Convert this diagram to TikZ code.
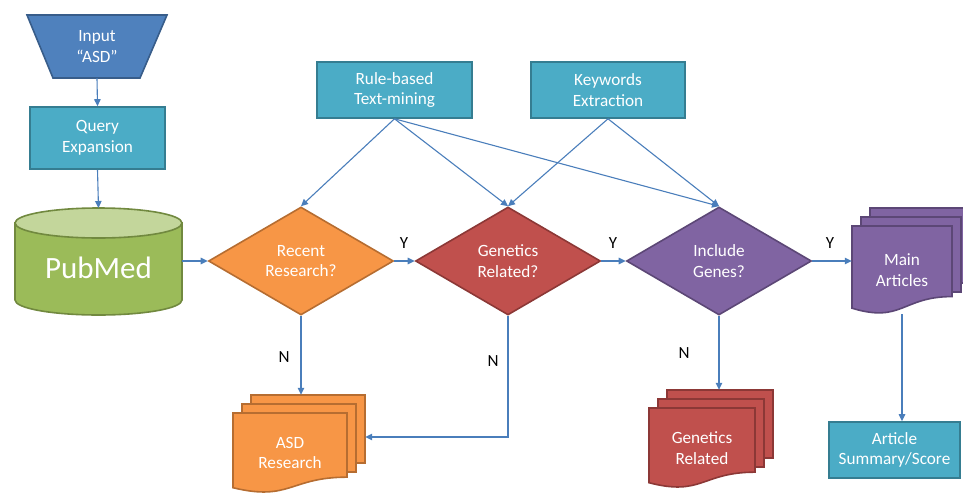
\documentclass[tikz,border=0pt]{standalone}
\usepackage{fontspec}
\setmainfont{Carlito}
\usepackage{tikz}
\usetikzlibrary{arrows.meta,positioning,shapes.geometric}
\definecolor{conn}{HTML}{4A7EBB}
\definecolor{inF}{HTML}{4F81BD}
\definecolor{inD}{HTML}{385D8A}
\definecolor{aqF}{HTML}{4BACC6}
\definecolor{aqD}{HTML}{357D91}
\definecolor{grF}{HTML}{9BBB59}
\definecolor{grT}{HTML}{C3D69B}
\definecolor{grD}{HTML}{71893F}
\definecolor{orgF}{HTML}{F79646}
\definecolor{orgD}{HTML}{B66D31}
\definecolor{redF}{HTML}{C0504D}
\definecolor{redD}{HTML}{8C3836}
\definecolor{purF}{HTML}{8064A2}
\definecolor{purD}{HTML}{5C4776}
\tikzset{
  shapetext/.style={text=white, align=center, inner sep=0pt, font=\fontsize{17.2}{20.5}\selectfont},
  procbox/.style={shapetext, draw=aqD, fill=aqF, line width=1.6pt},
  decide/.style={shapetext, diamond, minimum width=185pt, minimum height=108pt, line width=1.6pt},
  flow/.style={draw=conn, line width=1.1pt, -{Triangle[length=7pt, width=6.5pt]}},
  yn/.style={text=black, font=\fontsize{17}{20}\selectfont},
}

\begin{document}
\begin{tikzpicture}[x=1pt, y=-1pt]
  \useasboundingbox (0,0) rectangle (963,493);
  % input and query
  \draw[fill=inF, draw=inD, line width=1.6pt] (27,15) -- (167,15) -- (140,78) -- (53,78) -- cycle;
  \node[shapetext, minimum width=140pt, minimum height=63pt] (input) at (97,46.5) {Input\\“ASD”};
  \node[procbox, minimum width=135pt, minimum height=62pt] (query) at (97.5,138) {Query\\Expansion};
  % pubmed
  \draw[fill=grF, draw=grD, line width=1.6pt] (182,223) -- (182,300)
        arc[start angle=0, end angle=180, x radius=83.5, y radius=15] -- (15,223) -- cycle;
  \draw[fill=grT, draw=grD, line width=1.6pt] (98.5,223) ellipse [x radius=83.5, y radius=15];
  \coordinate (dbtop) at (98.5,208);
  \node[shapetext, font=\fontsize{31}{36}\selectfont, minimum width=167pt] (db) at (98.5,268) {PubMed};
  % text-mining boxes
  \node[procbox, minimum width=155pt, minimum height=56pt] (rule) at (394.5,90) {Rule-based\\Text-mining};
  \node[procbox, minimum width=154pt, minimum height=56pt] (kw) at (608,90) {Keywords\\Extraction};
  % decisions
  \node[decide, fill=orgF, draw=orgD] (rec) at (301,261) {Recent\\Research?};
  \node[decide, fill=redF, draw=redD] (gen) at (508,261) {Genetics\\Related?};
  \node[decide, fill=purF, draw=purD] (inc) at (719,261) {Include\\Genes?};
  % document stacks
  \foreach \x/\y/\w/\h/\fc/\lc/\n/\txt in {233/413/114/80/orgF/orgD/asd/{ASD\\Research},
      649/408/106/80/redF/redD/genrel/{Genetics\\Related}, 852/226/100/88/purF/purD/main/{Main\\Articles}}{
    \pgfmathsetmacro{\hb}{0.85*\h}
    \foreach \k in {2,1}{
      \draw[fill=\fc, draw=\lc, line width=1.6pt] (\x+9*\k,\y-9*\k) rectangle ++(\w,\hb);}
    \draw[fill=\fc, draw=\lc, line width=1.6pt] (\x,\y) -- (\x+\w,\y) -- (\x+\w,\y+0.802*\h)
          .. controls (\x+0.5*\w,\y+0.802*\h) and (\x+0.5*\w,\y+1.107*\h) .. (\x,\y+0.934*\h) -- cycle;
    \node[shapetext, minimum width=\w pt, minimum height=\h pt] (\n) at (\x+0.5*\w,\y+0.5*\h) {\txt};
    \node[minimum width=\w pt, minimum height=\hb pt, inner sep=0pt] (\n-back) at (\x+18+0.5*\w,\y-18+0.5*\hb) {};}
  \node[procbox, minimum width=131pt, minimum height=56pt] (summary) at (894.5,450) {Article\\Summary/Score};
  % connectors
  \draw[flow] (input.south) -- (query.north);
  \draw[flow] (query.south) -- (dbtop);
  \draw[flow] (rec.west -| db.east) -- (rec.west);
  \foreach \t in {rec,gen,inc}
    \draw[flow] (rule.south) -- (\t.north);
  \foreach \t in {gen,inc}
    \draw[flow] (kw.south) -- (\t.north);
  \draw[flow] (rec.east) -- (gen.west);
  \draw[flow] (gen.east) -- (inc.west);
  \draw[flow] (inc.east) -- (inc.east -| main.west);
  \draw[flow] (rec.south) -- (rec.south |- asd-back.north);
  \draw[flow] (gen.south) |- ([yshift=-8pt]asd-back.east);
  \draw[flow] (inc.south) -- (inc.south |- genrel-back.north);
  \draw[flow] (main.south) -- (main.south |- summary.north);
  % labels
  \node[yn] (y1) at (404,243) {Y};
  \node[yn] (y2) at (613,243) {Y};
  \node[yn] (y3) at (830,243) {Y};
  \node[yn] (n1) at (284,357) {N};
  \node[yn] (n2) at (493,361) {N};
  \node[yn] (n3) at (684,353) {N};
\end{tikzpicture}
\end{document}
